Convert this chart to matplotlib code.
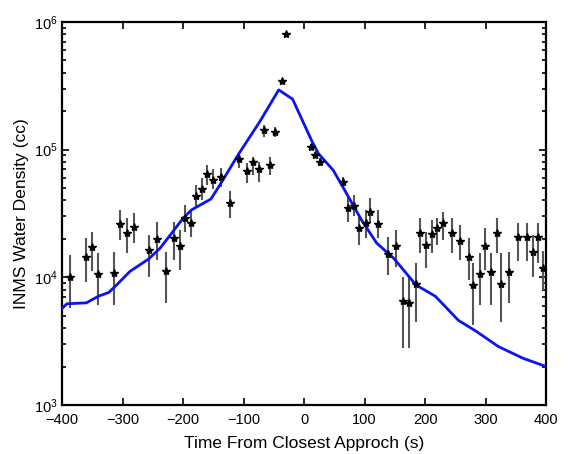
import matplotlib
matplotlib.use("Agg")
import matplotlib.pyplot as plt
import numpy as np
from matplotlib.ticker import LogLocator, NullFormatter, MultipleLocator

plt.rcParams["font.family"] = ["Liberation Sans", "DejaVu Sans"]
plt.rcParams["mathtext.fontset"] = "custom"
plt.rcParams["mathtext.rm"] = "Liberation Sans"
plt.rcParams["mathtext.it"] = "Liberation Sans:italic"

# INMS measurements: time (s), density, error bar top / bottom
t_obs = [-387, -360, -350, -340, -314, -304, -293, -281, -257, -243,
         -229, -215, -205, -197, -187, -179, -168, -160, -150, -137,
         -122, -107, -94, -84, -74, -66, -56, -48, -37, -30,
         11, 18, 26, 64, 73, 83, 91, 102, 109, 123,
         138, 152, 163, 174, 185, 192, 202, 211, 220, 230,
         244, 257, 272, 280, 290, 299, 309, 319, 326, 339,
         354, 368, 378, 387, 395]
n_obs = [1.0e4, 1.45e4, 1.71e4, 1.06e4, 1.07e4, 2.6e4, 2.24e4, 2.47e4, 1.62e4, 1.99e4,
         1.11e4, 2.02e4, 1.76e4, 2.9e4, 2.66e4, 4.3e4, 4.9e4, 6.46e4, 5.8e4, 6.1e4,
         3.8e4, 8.4e4, 6.8e4, 8.0e4, 7.0e4, 1.41e5, 7.6e4, 1.36e5, 3.45e5, 8.06e5,
         1.05e5, 9.1e4, 8.0e4, 5.6e4, 3.5e4, 3.6e4, 2.42e4, 2.68e4, 3.27e4, 2.62e4,
         1.52e4, 1.76e4, 6.46e3, 6.3e3, 8.9e3, 2.24e4, 1.79e4, 2.19e4, 2.42e4, 2.68e4,
         2.24e4, 1.93e4, 1.45e4, 8.7e3, 1.06e4, 1.77e4, 1.1e4, 2.21e4, 8.9e3, 1.1e4,
         2.05e4, 2.05e4, 1.57e4, 2.08e4, 1.18e4]
n_hi = [1.48e4, 2.02e4, 2.28e4, 1.55e4, 1.58e4, 3.37e4, 2.9e4, 3.18e4, 2.15e4, 2.7e4,
        1.59e4, 2.7e4, 2.35e4, 3.69e4, 3.37e4, 5.3e4, 5.97e4, 7.6e4, 7.0e4, 7.2e4,
        4.7e4, 9.4e4, 7.8e4, 8.8e4, 8.0e4, 1.56e5, 8.8e4, 1.5e5, 3.45e5, 8.06e5,
        1.1e5, 9.6e4, 8.6e4, 6.1e4, 4.3e4, 4.4e4, 3.08e4, 3.37e4, 4.16e4, 3.37e4,
        2.08e4, 2.35e4, 1.01e4, 1.01e4, 1.3e4, 2.9e4, 2.28e4, 2.8e4, 2.9e4, 3.27e4,
        2.9e4, 2.57e4, 2.02e4, 1.29e4, 1.55e4, 2.42e4, 1.55e4, 2.9e4, 1.55e4, 1.59e4,
        2.66e4, 2.66e4, 2.15e4, 2.66e4, 1.6e4]
n_lo = [5.7e3, 9.2e3, 1.12e4, 6.1e3, 6.1e3, 1.96e4, 1.55e4, 1.85e4, 1.0e4, 1.37e4,
        6.3e3, 1.37e4, 1.14e4, 2.28e4, 2.08e4, 3.5e4, 4.04e4, 5.3e4, 4.9e4, 5.1e4,
        2.9e4, 7.2e4, 5.5e4, 6.3e4, 5.6e4, 1.26e5, 6.3e4, 1.26e5, 3.45e5, 8.06e5,
        1.0e5, 8.6e4, 7.4e4, 5.1e4, 2.73e4, 3.0e4, 1.79e4, 2.02e4, 2.65e4, 2.02e4,
        1.05e4, 1.21e4, 2.8e3, 2.8e3, 4.5e3, 1.55e4, 1.18e4, 1.55e4, 1.79e4, 1.96e4,
        1.55e4, 1.37e4, 9.6e3, 4.2e3, 6.1e3, 1.14e4, 6.1e3, 1.55e4, 4.5e3, 6.3e3,
        1.33e4, 1.33e4, 1.01e4, 1.29e4, 8.0e3]

# model curve
t_model = [-400, -392, -360, -340, -323, -310, -288, -257, -238, -219,
           -200, -186, -154, -139, -109, -73, -42, -19, 13, 24,
           48, 65, 95, 120, 148, 185, 217, 255, 285, 321,
           362, 400]
n_model = [5.7e3, 6.2e3, 6.3e3, 7.1e3, 7.6e3, 8.7e3, 1.11e4, 1.39e4, 1.69e4, 2.21e4,
           2.9e4, 3.37e4, 4.1e4, 5.3e4, 9.1e4, 1.66e5, 2.93e5, 2.48e5, 1.16e5, 9.25e4,
           6.9e4, 5.0e4, 2.8e4, 1.85e4, 1.41e4, 8.7e3, 7.1e3, 4.6e3, 3.76e3, 2.87e3,
           2.32e3, 2.0e3]

fig = plt.figure(figsize=(5.7, 4.54), dpi=100)
ax = fig.add_axes([0.109, 0.108, 0.849, 0.844])

n_obs_a = np.array(n_obs)
yerr = [n_obs_a - np.array(n_lo), np.array(n_hi) - n_obs_a]
ax.errorbar(t_obs, n_obs, yerr=yerr, fmt="none", ecolor="#555555",
            elinewidth=1.5, capsize=0, zorder=2)
ax.plot(t_model, n_model, color="#0a14f0", linewidth=2, zorder=3)
ax.plot(t_obs, n_obs, linestyle="none", marker="*", markersize=6,
        color="black", zorder=4)

ax.set_yscale("log")
ax.set_xlim(-400, 400)
ax.set_ylim(1e3, 1e6)
ax.xaxis.set_major_locator(MultipleLocator(100))
ax.yaxis.set_major_locator(LogLocator(base=10, numticks=10))
ax.yaxis.set_minor_locator(LogLocator(base=10, subs=np.arange(2, 10), numticks=10))
ax.yaxis.set_minor_formatter(NullFormatter())

ax.tick_params(which="both", direction="in", top=True, right=True,
               labelsize=10.5, width=1.2)
ax.tick_params(which="major", length=5)
ax.tick_params(which="minor", length=3)
ax.tick_params(axis="x", pad=6)
ax.tick_params(axis="y", pad=3)
for s in ax.spines.values():
    s.set_linewidth(1.6)

ax.set_xlabel("Time From Closest Approch (s)", fontsize=12.5, labelpad=6)
ax.set_ylabel("INMS Water Density (cc)", fontsize=12.5)
ax.yaxis.set_label_coords(-0.068, 0.5)

fig.savefig("out.png", dpi=100)
